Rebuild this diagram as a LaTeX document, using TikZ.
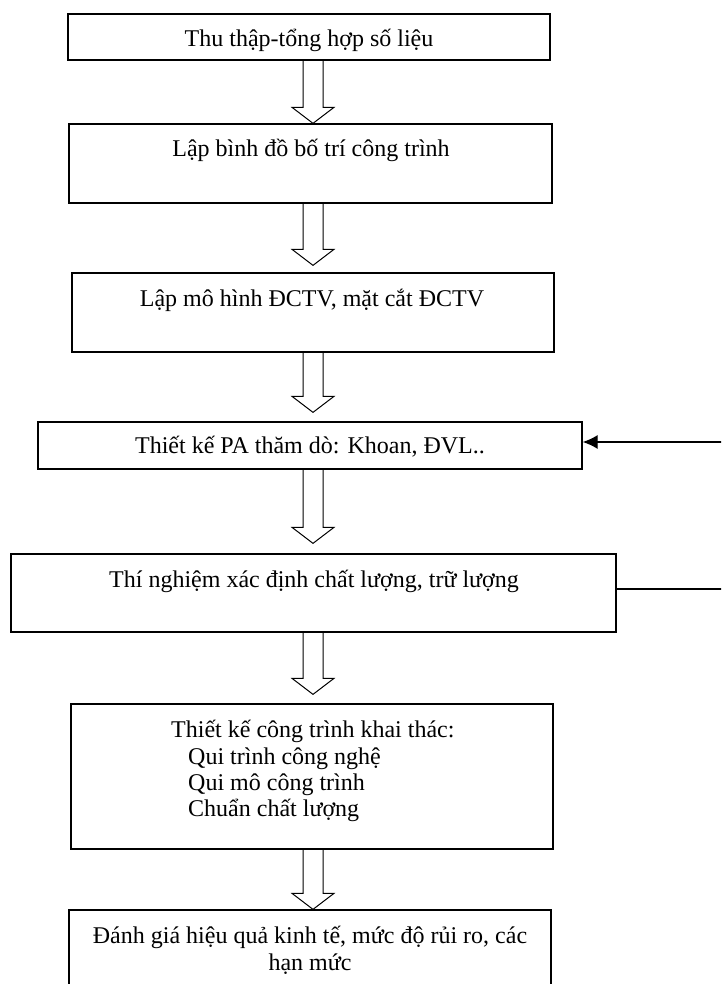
\documentclass[tikz,border=0pt]{standalone}
\usepackage{fontspec}
\setmainfont{Liberation Serif}
\usetikzlibrary{arrows.meta,calc}
\newcommand{\hollowarrow}[2]{%
  \draw[blockarrow] let \p1=(#1), \p2=(#2) in
    (\x1-10pt,\y1) -- (\x1-10pt,\y2+16pt) -- (\x1-21pt,\y2+16pt) -- (\x1,\y2)
    -- (\x1+21pt,\y2+16pt) -- (\x1+10pt,\y2+16pt) -- (\x1+10pt,\y1);}
\begin{document}
\begin{tikzpicture}[x=1pt,y=-1pt,
  box/.style={draw, line width=1.3pt, rectangle, inner sep=0pt},
  txt/.style={inner sep=0pt, font=\fontsize{24}{28}\selectfont},
  blockarrow/.style={line width=1pt, line join=miter},
  feed/.style={line width=1.3pt}]
\useasboundingbox (0,0) rectangle (721,984);
\clip (0,0) rectangle (721,984);

% boxes
\node[box, minimum width=482pt, minimum height=46pt] (b1) at (309,37) {};
\node[box, minimum width=483pt, minimum height=79pt] (b2) at (310.5,163.5) {};
\node[box, minimum width=482pt, minimum height=79pt] (b3) at (313,312.5) {};
\node[box, minimum width=544pt, minimum height=47pt] (b4) at (310,445.5) {};
\node[box, minimum width=605pt, minimum height=78pt] (b5) at (313.5,593) {};
\node[box, minimum width=482pt, minimum height=145pt] (b6) at (312,776.5) {};
\node[box, minimum width=482pt, minimum height=100pt] (b7) at (310,960) {};

% texts
\node[txt, anchor=base] (l1) at (309,47) {Thu thập-tổng hợp số liệu};
\node[txt, anchor=base] (l2) at (311,157) {Lập bình đồ bố trí công trình};
\node[txt, anchor=base] (l3) at (312,306) {Lập mô hình ĐCTV, mặt cắt ĐCTV};
\node[txt, anchor=base] (l4) at (310,453) {Thiết kế PA thăm dò: Khoan, ĐVL..};
\node[txt, anchor=base] (l5) at (314,587) {Thí nghiệm xác định chất lượng, trữ lượng};
\node[txt, anchor=base west] (l6a) at (171,737) {Thiết kế công trình khai thác:};
\node[txt, anchor=base west] (l6b) at (188,764) {Qui trình công nghệ};
\node[txt, anchor=base west] (l6c) at (188,790) {Qui mô công trình};
\node[txt, anchor=base west] (l6d) at (188,816) {Chuẩn chất lượng};
\node[txt, anchor=base] (l7a) at (310,943) {Đánh giá hiệu quả kinh tế, mức độ rủi ro, các};
\node[txt, anchor=base] (l7b) at (310,970) {hạn mức};

% block arrows
\coordinate (ax) at (313,0);
\coordinate (k1) at (b2.north -| ax);
\coordinate (k2) at ($(b3.north -| ax)+(0,-7)$);
\coordinate (k3) at ($(b4.north -| ax)+(0,-9)$);
\coordinate (k4) at ($(b5.north -| ax)+(0,-10)$);
\coordinate (k5) at ($(b6.north -| ax)+(0,-9)$);
\coordinate (k6) at (b7.north -| ax);
\hollowarrow{b1.south -| ax}{k1}
\hollowarrow{b2.south -| ax}{k2}
\hollowarrow{b3.south -| ax}{k3}
\hollowarrow{b4.south -| ax}{k4}
\hollowarrow{b5.south -| ax}{k5}
\hollowarrow{b6.south -| ax}{k6}

% feedback loop (vertical part lies outside the picture)
\coordinate (f1) at (760,589);
\coordinate (f2) at (760,442);
\draw[feed, -{Latex[length=15pt,width=14pt]}]
  ([yshift=4pt]b5.east) -- (f1) -- (f2) -- ([yshift=3.5pt]b4.east);
\end{tikzpicture}
\end{document}
